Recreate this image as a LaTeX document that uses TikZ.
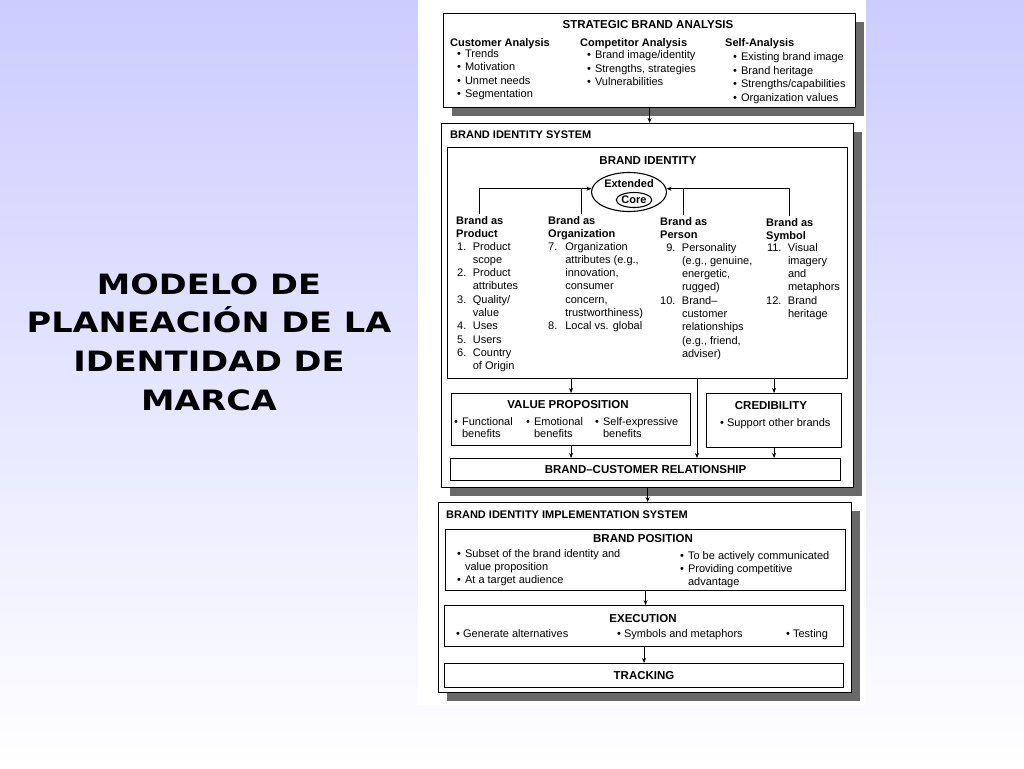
\documentclass[tikz,border=0pt]{standalone}
\usepackage{fontspec}
\setmainfont{Liberation Sans}
\newfontfamily\titlefont[FakeStretch=1.2]{DejaVu Sans}
\usetikzlibrary{arrows.meta,shapes.geometric,shadows}
\definecolor{slidebg}{RGB}{204,204,255}
\definecolor{halftone}{RGB}{105,105,105}

\begin{document}
\begin{tikzpicture}[x=1pt,y=-1pt]
\tikzstyle{every node}+=[inner sep=0pt, font=\fontsize{11}{13.3}\selectfont]
\tikzstyle{frame}=[draw=black, fill=white, anchor=north west]
\tikzstyle{outer}=[frame, line width=1.3pt, drop shadow={shadow xshift=8pt, shadow yshift=-8pt, fill=halftone, opacity=1}]
\tikzstyle{inner}=[frame, line width=1.1pt]
\tikzstyle{hd}=[font=\fontsize{11}{13.3}\selectfont\bfseries]
\tikzstyle{boxcap}=[font=\fontsize{11.5}{13.3}\selectfont\bfseries, anchor=base]
\tikzstyle{txt}=[anchor=base west]
\tikzstyle{arr}=[-{Stealth[length=5pt,width=4pt]}, line width=0.8pt]

\shade[top color=slidebg, bottom color=white] (0,0) rectangle (1024,768);
\useasboundingbox (0,0) rectangle (1024,768);
\fill[white] (418,0) rectangle (866,705);

\node[align=center, font=\titlefont\bfseries\fontsize{28}{38.7}\selectfont] (ttl) at (209,342) {MODELO DE\\PLANEACIÓN DE LA\\IDENTIDAD DE\\MARCA};

\node[outer, minimum width=412, minimum height=94] (sba) at (443,13) {};
\node[boxcap] (sbat) at (648,29) {STRATEGIC BRAND ANALYSIS};
\node[txt, font=\fontsize{11}{13.6}\selectfont] (cust) at (450,46) {\begin{tabular}[t]{@{\hspace{7pt}}l@{\hspace{4pt}}l@{}}
\multicolumn{2}{@{}l@{}}{\bfseries Customer Analysis}\\[-2.6pt]
• & Trends\\ • & Motivation\\ • & Unmet needs\\ • & Segmentation\end{tabular}};
\node[txt, font=\fontsize{11}{13.6}\selectfont] (comp) at (580,46) {\begin{tabular}[t]{@{\hspace{7pt}}l@{\hspace{4pt}}l@{}}
\multicolumn{2}{@{}l@{}}{\bfseries Competitor Analysis}\\[-1pt]
• & Brand image/identity\\ • & Strengths, strategies\\ • & Vulnerabilities\end{tabular}};
\node[txt, font=\fontsize{11}{13.6}\selectfont] (self) at (725,47) {\begin{tabular}[t]{@{\hspace{8pt}}l@{\hspace{4pt}}l@{}}
\multicolumn{2}{@{}l@{}}{\bfseries Self-Analysis}\\[0pt]
• & Existing brand image\\ • & Brand heritage\\ • & Strengths/capabilities\\ • & Organization values\end{tabular}};

\node[outer, minimum width=412, minimum height=364] (bis) at (441,123) {};
\node[hd, txt] (bist) at (450,138) {BRAND IDENTITY SYSTEM};
\node[inner, minimum width=400, minimum height=231] (bi) at (447,147) {};
\node[boxcap] (bit) at (648,164) {BRAND IDENTITY};
\node[draw, ellipse, line width=1.1pt, minimum width=75, minimum height=39] (ext) at (629,192) {};
\node[hd, anchor=base] (extt) at (629,187) {Extended};
\node[draw, ellipse, line width=1.1pt, minimum width=35, minimum height=15, hd] (core) at (634,200) {Core};

\node[txt, hd] (hprod) at (456,224) {\begin{tabular}[t]{@{}l@{}}Brand as\\Product\end{tabular}};
\node[txt, hd] (horg) at (548,224) {\begin{tabular}[t]{@{}l@{}}Brand as\\Organization\end{tabular}};
\node[txt, hd] (hper) at (660,225) {\begin{tabular}[t]{@{}l@{}}Brand as\\Person\end{tabular}};
\node[txt, hd] (hsym) at (766,226) {\begin{tabular}[t]{@{}l@{}}Brand as\\Symbol\end{tabular}};
\draw[arr] (hprod.north) |- (ext.175);
\draw[line width=0.8pt] (horg.north) -- (horg.north |- ext.175);
\draw[arr] (hsym.north) |- (ext.5);
\draw[line width=0.8pt] (hper.north) -- (hper.north |- ext.5);

\node[txt] (lprod) at (457,250) {\begin{tabular}[t]{@{}r@{\hspace{6.5pt}}l@{}}
1. & Product\\ & scope\\ 2. & Product\\ & attributes\\ 3. & Quality/\\ & value\\
4. & Uses\\ 5. & Users\\ 6. & Country\\ & of Origin\end{tabular}};
\node[txt] (lorg) at (548,250) {\begin{tabular}[t]{@{}r@{\hspace{8pt}}l@{}}
7. & Organization\\ & attributes (e.g.,\\ & innovation,\\ & consumer\\ & concern,\\
& trustworthiness)\\ 8. & Local vs. global\end{tabular}};
\node[txt] (lper) at (660,251) {\begin{tabular}[t]{@{}r@{\hspace{6.5pt}}l@{}}
9. & Personality\\ & (e.g., genuine,\\ & energetic,\\ & rugged)\\ 10. & Brand–\\
& customer\\ & relationships\\ & (e.g., friend,\\ & adviser)\end{tabular}};
\node[txt] (lsym) at (766,251) {\begin{tabular}[t]{@{}r@{\hspace{6.5pt}}l@{}}
11. & Visual\\ & imagery\\ & and\\ & metaphors\\ 12. & Brand\\ & heritage\end{tabular}};

\node[inner, minimum width=239, minimum height=52] (vp) at (451,393) {};
\node[boxcap] (vpt) at (568,408) {VALUE PROPOSITION};
\node[txt, font=\fontsize{11}{12}\selectfont] (vfun) at (454,425) {\begin{tabular}[t]{@{}l@{\hspace{4pt}}l@{}}• & Functional\\ & benefits\end{tabular}};
\node[txt, font=\fontsize{11}{12}\selectfont] (vemo) at (526,425) {\begin{tabular}[t]{@{}l@{\hspace{4pt}}l@{}}• & Emotional\\ & benefits\end{tabular}};
\node[txt, font=\fontsize{11}{12}\selectfont] (vself) at (595,425) {\begin{tabular}[t]{@{}l@{\hspace{4pt}}l@{}}• & Self-expressive\\ & benefits\end{tabular}};

\node[inner, minimum width=135, minimum height=54] (cred) at (706,393) {};
\node[boxcap] (credt) at (771,409) {CREDIBILITY};
\node[txt] (csup) at (720,426) {• Support other brands};

\node[inner, minimum width=390, minimum height=22, font=\fontsize{11.5}{13.3}\selectfont\bfseries] (bcr) at (450,458) {BRAND–CUSTOMER RELATIONSHIP};
\coordinate (mid) at (697,420);
\draw[arr] (bi.south -| vp.north) -- (vp.north);
\draw[arr] (bi.south -| cred.north) -- (cred.north);
\draw[arr] (bi.south -| mid) -- (bcr.north -| mid);
\draw[arr] (vp.south) -- (vp.south |- bcr.north);
\draw[arr] (cred.south) -- (cred.south |- bcr.north);

\node[outer, minimum width=413, minimum height=190] (bims) at (438,502) {};
\node[hd, txt] (bimst) at (446,518) {BRAND IDENTITY IMPLEMENTATION SYSTEM};
\node[inner, minimum width=400, minimum height=61] (bpos) at (445,529) {};
\node[boxcap] (bpost) at (643,542) {BRAND POSITION};
\node[txt, font=\fontsize{11}{13}\selectfont] (bpl) at (457,557) {\begin{tabular}[t]{@{}l@{\hspace{4pt}}l@{}}
• & Subset of the brand identity and\\ & value proposition\\ • & At a target audience\end{tabular}};
\node[txt, font=\fontsize{11}{13}\selectfont] (bpr) at (680,559) {\begin{tabular}[t]{@{}l@{\hspace{4pt}}l@{}}
• & To be actively communicated\\ • & Providing competitive\\ & advantage\end{tabular}};

\node[inner, minimum width=399, minimum height=41] (exec) at (444,605) {};
\node[boxcap] (exect) at (643,622) {EXECUTION};
\node[txt] (egen) at (456,637) {• Generate alternatives};
\node[txt] (esym) at (617,637) {• Symbols and metaphors};
\node[txt] (etst) at (786,637) {• Testing};

\node[inner, minimum width=399, minimum height=24, font=\fontsize{11.5}{13.3}\selectfont\bfseries] (track) at (444,663) {TRACKING};

\draw[arr] (sba.south) -- (sba.south |- bis.north);
\draw[arr] (bis.south) -- (bis.south |- bims.north);
\draw[arr] (bpos.south) -- (bpos.south |- exec.north);
\draw[arr] (exec.south) -- (exec.south |- track.north);
\end{tikzpicture}
\end{document}
